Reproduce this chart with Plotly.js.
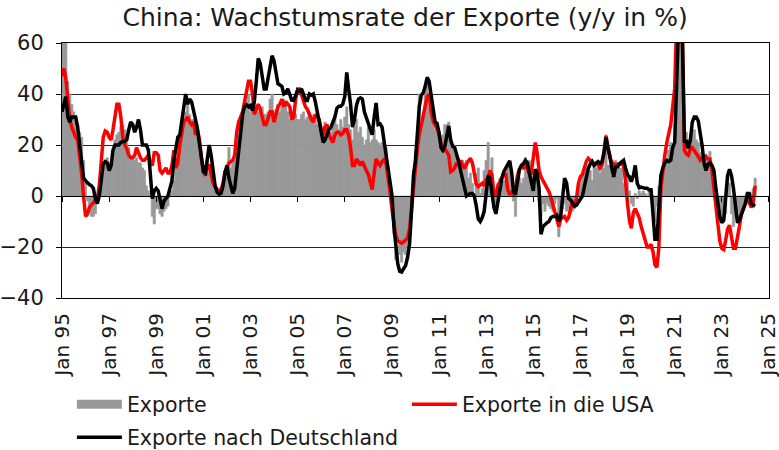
<!DOCTYPE html>
<html>
<head>
<meta charset="utf-8">
<script src="https://cdn.plot.ly/plotly-3.0.1.min.js"></script>
<style>html,body{margin:0;padding:0;background:#fff}</style>
</head>
<body>
<div id="chart" style="width:779px;height:450px"></div>
<script>
// ---- data (monthly, y/y %), Jan 1995 .. Jun 2024 ----
const startYear = 1995;
const tickDates = ['1995-01-01','1997-01-01','1999-01-01','2001-01-01','2003-01-01','2005-01-01','2007-01-01','2009-01-01','2011-01-01','2013-01-01','2015-01-01','2017-01-01','2019-01-01','2021-01-01','2023-01-01','2025-01-01'];
const tickLabels = ['Jan 95','Jan 97','Jan 99','Jan 01','Jan 03','Jan 05','Jan 07','Jan 09','Jan 11','Jan 13','Jan 15','Jan 17','Jan 19','Jan 21','Jan 23','Jan 25'];

const exporte = [
  70, 68, 62, 45, 40, 36, 33, 31, 28, 25, 23, 14,      // 1995
  5, -2, -6, -8, -8, -7, -3, 5, 7, 12, 14, 15,          // 1996
  13, 12, 16, 22, 24, 25, 27, 28, 26, 21, 19, 16,       // 1997
  15, 14, 15, 13, 13, 11, 10, 4, 2, 1, -8, -11,         // 1998
  -5, -5, -7, -8, -6, -5, -4, 1, 2, 6, 11, 13,          // 1999
  18, 24, 30, 33, 37, 32, 30, 30, 27, 28, 21, 16,       // 2000
  10, 12, 14, 9, 9, 6, 3, 1, 2, 0, 4, 10,               // 2001
  12, 19, 11, 13, 14, 20, 28, 30, 32, 33, 37, 40,       // 2002
  33, 34, 33, 34, 33, 34, 35, 32, 32, 33, 38, 40,       // 2003
  33, 34, 36, 33, 35, 38, 36, 33, 30, 32, 33, 32,       // 2004
  30, 30, 32, 33, 30, 31, 33, 32, 31, 30, 28, 26,       // 2005
  24, 27, 29, 26, 24, 25, 28, 31, 28, 26, 30, 27,       // 2006
  31, 35, 28, 26, 22, 27, 30, 25, 27, 23, 20, 22,       // 2007
  27, 21, 22, 26, 22, 21, 20, 21, 20, 19, 11, 2,        // 2008
  -3, -15, -25, -18, -23, -26, -22, -23, -20, -15, -5, 10, // 2009
  18, 22, 40, 26, 31, 42, 46, 35, 38, 34, 26, 26,       // 2010
  25, 20, 24, 28, 28, 29, 21, 19, 20, 16, 15, 14,       // 2011
  14, 13, 14, 7, 9, 5, 1, 9, 11, 1, 3, 10,              // 2012
  14, 21, 10, 15, 1, -3, 5, 7, 5, 6, 6, 12,             // 2013
  10, 5, -2, -8, 1, 7, 5, 7, 15, 10, 14, 12,            // 2014
  5, 5, 10, -2, -8, -3, -6, -3, -4, -5, -6, -3,         // 2015
  -1, -16, -3, -5, -3, -6, -5, -7, -6, -5, -3, 2,       // 2016
  5, 8, 9, 12, 9, 10, 6, 12, 11, 12, 9, 11,             // 2017
  11, 24, 12, 12, 8, 10, 14, 12, 11, 11, 5, 4,          // 2018
  9, 2, -3, -4, 1, -1, 2, 1, 2, 1, 0, 3,                // 2019
  -1, -6, -10, -4, 4, 9, 11, 12, 14, 18, 21, 20,        // 2020
  22, 62, 75, 65, 30, 27, 25, 22, 22, 24, 26, 22,       // 2021
  21, 17, 16, 15, 16, 15, 17.5, 9, 7, 1, -4, -7,        // 2022
  -10, -8, -7, 8, 5, -7, -12, -8, -6, -9, -6, -5,       // 2023
  -3, -1, -2, 1, 3, 7                                   // 2024
];

const exporteUSA = [
  47, 50, 46, 37, 30, 27, 25, 23, 22, 16, 9, 0,
  -8, -7, -4.5, -3.5, -2.5, -2, -1, 4, 12, 23, 25.5, 25,
  23, 22, 26, 31, 36, 36, 31, 23, 20, 18.5, 16, 15,
  15, 16, 19, 17, 15, 14, 14, 15, 16, 13, 12, 17,
  17, 16, 10, 9, 10, 11, 9, 9, 12, 18, 11, 13,
  20, 26, 29, 30, 31, 29, 28, 29, 24, 26, 22, 15,
  9.5, 8, 12, 12, 9, 5, 3.7, 2.5, 1.7, 2.5, 5, 9.5,
  11, 13, 13.5, 14, 16, 25, 29, 31, 33, 37, 41, 45,
  45, 40, 32, 34, 36, 34, 31, 28, 28, 31, 33, 33,
  29, 32, 35, 36, 38, 35, 37, 36, 35, 30, 31, 38,
  42, 42, 40, 37, 35, 34, 32, 30, 29, 32, 31, 30,
  26, 24, 27, 28, 24, 22, 21, 24, 25, 25, 24, 24.5,
  26, 26, 24, 19, 12, 12, 14.5, 13.5, 12, 13.5, 11.5, 10,
  8.5, 5.6, 2.5, 9, 14.5, 13, 12, 13.5, 14.3, 13, 8, 2,
  -5, -11, -15.5, -17.5, -18.2, -18.5, -18, -17.3, -16.5, -13, -4.5, 3,
  12, 19, 24, 28, 32, 35.7, 39, 40, 33, 29.5, 28, 26.5,
  24, 20.5, 17.5, 18.5, 17.5, 16, 9.5, 10, 11, 13, 12, 14,
  12, 10.8, 12.5, 13.5, 14.8, 13, 8, 4.5, 3.7, 4.3, 5, 4,
  6.5, 7, 10, 8.2, 1, 0, 4, 5.5, 7, 8.5, 8.5, 2.5,
  0.5, 1.5, 0.4, 3, 8, 10.5, 11.5, 11, 12, 10.5, 9, 9,
  14, 21, 17, 10, 7.5, 6, 4.5, 3, 1.7, -0.5, -3.5, -7,
  -9.5, -12, -9, -8.5, -8, -9.5, -8.5, -5, -2.5, -3, -1, 5,
  7.6, 8.5, 11, 13.5, 14.8, 14, 13.5, 12.5, 13, 12.5, 11, 12,
  17, 23.5, 20, 15, 13.5, 12, 12.5, 12.5, 12.5, 12.5, 12, 6,
  -3, -10, -12.7, -6.5, -5, -6.5, -8.5, -12, -15, -17, -20, -20,
  -19, -22, -27, -28, -20, 3, 11, 16, 21, 24, 28, 35,
  42, 70, 85, 75, 62, 18, 16.5, 16, 18.5, 19, 18, 16.5,
  15.5, 14, 14.8, 14.5, 15.5, 14.5, 14.5, 10, 3, -5, -13, -17.5,
  -20.5, -21, -17.5, -13, -11.5, -16, -20.5, -20.5, -15, -12, -7, -4.5,
  -3, -1.8, -2.5, -4.5, -3, 4
];

const exporteDE = [
  33, 37, 39, 31, 29, 31, 31, 31, 27, 20, 11, 7,
  6, 5, 4.5, 4, 3, -1, -3, 0, 6, 12.5, 13.5, 13,
  10, 12, 18, 20, 20, 20, 21, 21.4, 21.4, 22, 26, 29,
  28, 25, 27, 30, 26, 20, 20, 20, 18, 9, -1, 2,
  3, 2, -2, -5, -2, -1, 0, 3, 6, 14, 18, 23,
  24, 29, 35, 40, 36, 38, 37, 34, 30, 26, 21, 14,
  9.5, 9, 15, 20, 16, 9, 4, 1.5, 0.7, 1, 4, 9,
  12, 7, 4, 1, 3, 11, 19, 27, 32, 35, 35.7, 35,
  35.5, 33.5, 37, 45, 54, 52, 46, 42, 42, 47, 50, 55,
  53, 48, 44, 43.5, 43, 40, 40.5, 42, 39.5, 37.6, 37.5, 40,
  41.5, 41, 42, 40, 37.5, 37.5, 40, 39.5, 40, 37, 33, 29.5,
  25, 21, 22, 24.5, 26, 27, 29, 31, 34.4, 35.2, 35.2, 36,
  39, 48.5, 42, 36, 27, 30, 35.5, 38, 38.5, 38, 33, 30.5,
  28, 26.5, 24, 31, 36.5, 28, 28.3, 27, 21.5, 16.5, 11.5, 5,
  0.4, -12, -19, -26.5, -29.5, -29.8, -28.5, -27.3, -24, -19, -6, 8,
  14, 27, 35, 39.5, 40.5, 43, 46.5, 45, 39, 33, 29, 28.5,
  25, 19, 18, 19.5, 24, 27.5, 22, 19.5, 19, 16.5, 13.5, 10,
  7, 4, 0, 0.5, 1, 1, 0, -4, -9, -10, -8.5, -6,
  1, 8, 7, 1.5, -4.5, -7, -2, 2.5, 7, 9.5, 11, 13,
  13.8, 9, 1.7, 0.5, 5, 10.5, 12, 12.7, 14, 13, 9, 5.5,
  2, 10.5, 9, 3, -15, -12, -11, -10.5, -10, -8.5, -8, -8,
  -7.5, -10, -8, 1, 7, 5, -1, -1.5, -2.8, -4, -3.6, -2.2,
  -1, 0, 3.5, 7.5, 10.5, 12.5, 13.5, 12, 12.8, 13.5, 12.8, 13.5,
  17, 23, 19, 16, 11, 7.5, 11.5, 11.5, 12.8, 13.5, 14, 11,
  8.2, 7.5, 5.6, 8, 12, 5, 3.2, 3.5, 3.2, 3, 3, 2.5,
  2.5, -6, -17, -17, -4, 8, 11, 13, 14, 13.5, 14, 19,
  21, 42, 80, 90, 62, 21.5, 21.5, 18.7, 22, 29, 31, 31,
  29.5, 25, 20, 13, 10, 12.5, 13, 12, 10, 3, -3, -8,
  -10.5, -9.5, -1, 8, 10.5, 8, 3, -5, -10.5, -9.5, -7.5, -5,
  -3, 1, 1, -3, -3.5, -4
];

function monthDates(n) {
  const out = [];
  for (let i = 0; i < n; i++) {
    const y = startYear + Math.floor(i / 12);
    const m = (i % 12) + 1;
    out.push(y + '-' + String(m).padStart(2, '0') + '-01');
  }
  return out;
}

const FONT = 'DejaVu Sans, sans-serif';
const TXT = '#1a1a1a';
const GREY = '#999999';
const BAR_W = 36 * 24 * 3600 * 1000;

const traces = [
  {
    type: 'bar', name: 'Exporte',
    x: monthDates(exporte.length), y: exporte,
    width: BAR_W,
    marker: {color: GREY, line: {width: 0.6, color: GREY}},
    showlegend: false
  },
  {
    // legend key only (wide grey swatch like the original)
    type: 'scatter', mode: 'lines', name: 'Exporte',
    x: [null], y: [null],
    line: {color: GREY, width: 9},
    legend: 'legend'
  },
  {
    type: 'scatter', mode: 'lines', name: 'Exporte in die USA',
    x: monthDates(exporteUSA.length), y: exporteUSA,
    line: {color: '#ff0000', width: 3.5},
    legend: 'legend'
  },
  {
    type: 'scatter', mode: 'lines', name: 'Exporte nach Deutschland',
    x: monthDates(exporteDE.length), y: exporteDE,
    xaxis: 'x2',
    line: {color: '#000000', width: 3.5},
    legend: 'legend2'
  }
];

const xRange = ['1995-01-01', '2025-01-02'];

const layout = {
  width: 779, height: 450,
  margin: {l: 62, r: 10, t: 43, b: 152, autoexpand: false},
  paper_bgcolor: '#ffffff', plot_bgcolor: '#ffffff',
  font: {family: FONT, color: TXT, size: 20},
  title: {
    text: 'China: Wachstumsrate der Exporte (y/y in %)',
    font: {family: FONT, size: 25, color: TXT},
    x: 0.52, xanchor: 'center', y: 0.962, yanchor: 'middle'
  },
  bargap: 0,
  showlegend: true,
  xaxis: {
    type: 'date', range: xRange,
    tickmode: 'array', tickvals: tickDates, ticktext: tickLabels,
    tickangle: -90, tickfont: {family: FONT, size: 20, color: TXT},
    ticks: '', ticklabelstandoff: 6, ticklabeloverflow: 'allow',
    showgrid: false, zeroline: false,
    showline: true, linecolor: '#000', linewidth: 1, mirror: true
  },
  xaxis2: {
    type: 'date', range: xRange, overlaying: 'x', anchor: 'free', position: 0.4,
    tickmode: 'array', tickvals: tickDates,
    ticks: 'outside', ticklen: 5, tickcolor: '#000', tickwidth: 1,
    showticklabels: false, showgrid: false, zeroline: false,
    showline: true, linecolor: '#000', linewidth: 1
  },
  yaxis: {
    range: [-40, 60], tickmode: 'array', tickvals: [-40, -20, 0, 20, 40, 60],
    tickfont: {family: FONT, size: 21, color: TXT},
    ticks: 'outside', ticklen: 5, tickcolor: '#000', ticklabelstandoff: 8,
    showgrid: true, gridcolor: '#262626', gridwidth: 1,
    zeroline: false, showline: true, linecolor: '#000', linewidth: 1, mirror: true
  },
  legend: {
    orientation: 'h', x: 0.014, xanchor: 'left', y: -0.339, yanchor: 'top',
    entrywidth: 275, itemwidth: 45, font: {family: FONT, size: 20.5, color: TXT},
    bgcolor: 'rgba(0,0,0,0)', traceorder: 'normal'
  },
  legend2: {
    orientation: 'h', x: 0.014, xanchor: 'left', y: -0.468, yanchor: 'top',
    itemwidth: 45, font: {family: FONT, size: 20.5, color: TXT},
    bgcolor: 'rgba(0,0,0,0)'
  }
};

Plotly.newPlot('chart', traces, layout, {displayModeBar: false, staticPlot: true});
</script>
</body>
</html>
